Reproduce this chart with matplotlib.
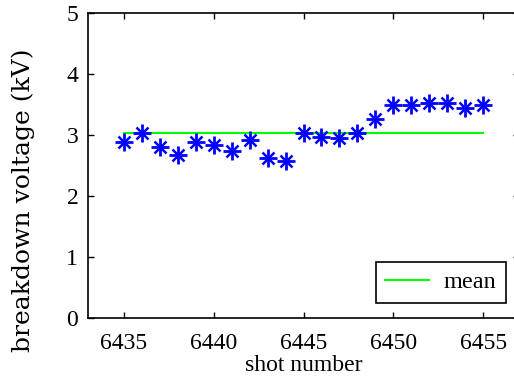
import matplotlib
matplotlib.use("Agg")
import matplotlib.pyplot as plt

shots = list(range(6435, 6456))
voltage = [2.88, 3.03, 2.81, 2.67, 2.88, 2.84, 2.74, 2.92, 2.63, 2.57,
           3.03, 2.97, 2.95, 3.03, 3.26, 3.49, 3.49, 3.53, 3.53, 3.45, 3.49]
mean_kv = 3.04
x_ticks = [6435, 6440, 6445, 6450, 6455]
y_ticks = [0, 1, 2, 3, 4, 5]

plt.rcParams["font.family"] = ["Liberation Serif", "DejaVu Serif"]
plt.rcParams["font.size"] = 17

fig = plt.figure(figsize=(5.14, 3.76), dpi=100)
ax = fig.add_axes([88 / 514, 58 / 376, 431 / 514, 305 / 376])

blue = (0, 0, 1)
ax.plot([shots[0], shots[-1]], [mean_kv, mean_kv], color=(0, 1, 0),
        linewidth=1.5, label="mean")
# matlab style asterisk: long + with shorter x on top
ax.plot(shots, voltage, linestyle="none", marker="+", markersize=13,
        markeredgewidth=2, color=blue)
ax.plot(shots, voltage, linestyle="none", marker="x", markersize=8,
        markeredgewidth=1.8, color=blue)

ax.set_xlim(6433, 6457)
ax.set_ylim(0, 5)
ax.set_xticks(x_ticks)
ax.set_yticks(y_ticks)
ax.tick_params(axis="x", direction="in", length=4, width=1, top=True, pad=11)
ax.tick_params(axis="y", direction="in", length=4, width=1, right=True, pad=7)
for sp in ax.spines.values():
    sp.set_linewidth(1.2)

ax.set_xlabel("shot number")
ax.xaxis.set_label_coords(0.5, -0.12)
ax.set_ylabel("breakdown voltage (kV)", family=["DejaVu Serif"], fontsize=18)
ax.yaxis.set_label_coords(-0.123, 0.387)

leg = ax.legend(loc="lower right", fancybox=False, framealpha=1,
                edgecolor="black", handlelength=1.8, handletextpad=0.6,
                borderpad=0.4, borderaxespad=0, fontsize=17.5,
                bbox_to_anchor=(0.970, 0.049))
leg.get_frame().set_linewidth(1.2)

fig.savefig("out.png", dpi=100)
